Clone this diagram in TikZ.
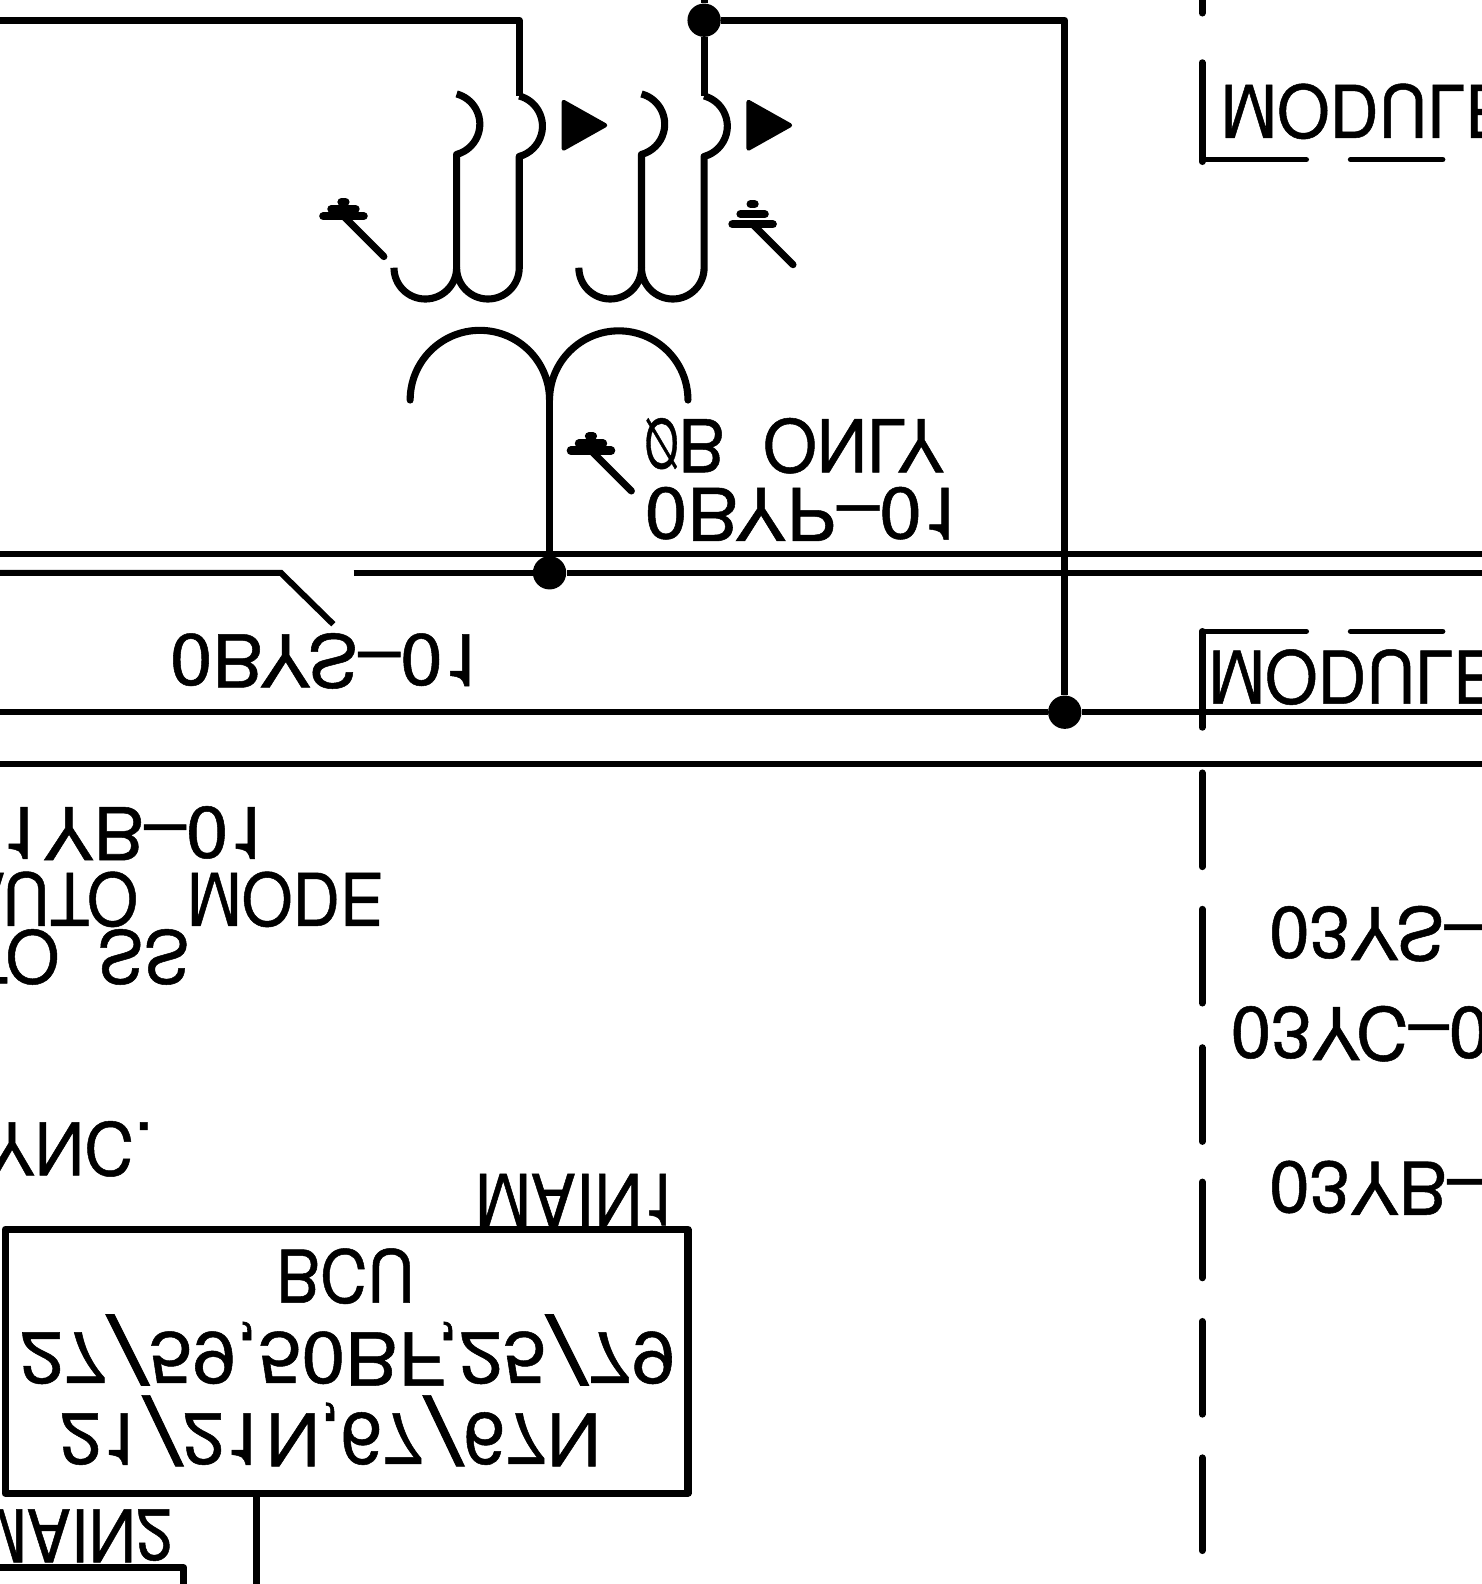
\documentclass[tikz,border=0pt]{standalone}
\usepackage{fontspec}
\setmainfont{TeX Gyre Heros}[FakeBold=0.7]
\usetikzlibrary{positioning}
\newcommand{\cadfont}{\fontsize{41}{41}\selectfont}
\newcommand{\cadslash}{\raisebox{-0.22em}{\scalebox{1.9}[1.3]{/}}}
\tikzset{
  wire/.style={line width=4pt,line join=round},
  bus/.style={line width=3.4pt},
  markbar/.style={line width=4.6pt,line cap=round},
  dashwire/.style={line width=3.8pt,line cap=round},
  dot/.style={circle,fill,inner sep=0pt,minimum size=0.66cm},
  cadtext/.style={font=\cadfont,yscale=-1,inner sep=0pt,text height=1.04cm,text depth=0pt}
}
\begin{document}
\begin{tikzpicture}[x=0.02cm,y=-0.02cm]
  \useasboundingbox (0,0) rectangle (1467,1568);
  \clip (0,0) rectangle (1467,1568);
  % junctions
  \node[dot] (jcttop) at (697,20) {};
  \node[dot] (jctmid) at (544,567) {};
  \node[dot] (jctbus) at (1054,705) {};
  % secondary side
  \draw[wire] (0,20) -- (514,20) -- (514,95);
  \draw[wire] (697,0) -- (jcttop) -- (697,95);
  \draw[wire] (jcttop) -- (1054,20) -- (jctbus);
  \foreach \cx in {0,183}{
    \draw[wire] (514+\cx,95) arc[start angle=-75,end angle=75,radius=31]
      -- (514+\cx,265) arc[start angle=0,end angle=180,radius=31]
      arc[start angle=0,end angle=180,radius=31];
    \draw[wire] (452+\cx,93) arc[start angle=-75,end angle=75,radius=31]
      -- (452+\cx,265);
    \draw[fill,line width=2.4pt,line join=round] (558+\cx,101) -- (599+\cx,124) -- (558+\cx,147) -- cycle;
  }
  % primary side
  \draw[wire,line cap=round] (406,396) arc[start angle=180,end angle=360,radius=69]
    arc[start angle=180,end angle=360,radius=68.5];
  \draw[wire] (544,390) -- (jctmid);
  % polarity marks
  \foreach \mx/\my/\mg in {340/214/7,585/446/7,745/222/10}{
    \draw[wire,line cap=round] (\mx,\my) -- (\mx+40,\my+40);
    \draw[markbar] (\mx-20,\my) -- (\mx+20,\my);
    \draw[markbar] (\mx-12,\my-\mg) -- (\mx+12,\my-\mg);
    \draw[markbar] (\mx-2,\my-2*\mg) -- (\mx+2,\my-2*\mg);
  }
  % busbars
  \draw[bus] (0,548) -- (1467,548);
  \draw[bus] (0,567) -- (278,567) -- (330,618);
  \draw[bus] (350,567) -- (jctmid) -- (1467,567);
  \draw[bus] (0,705) -- (jctbus) -- (1467,705);
  \draw[bus] (0,756) -- (1467,756);
  % module boundary
  \foreach \ya/\yb in {-20/13,62/160,625/720,765/858,900/993,1037/1130,1170/1265,1308/1400,1443/1535}{
    \draw[dashwire] (1190,\ya) -- (1190,\yb);
  }
  \foreach \ym in {158,625}{
    \draw[dashwire,line width=3.2pt] (1190,\ym) -- (1293,\ym);
    \draw[dashwire,line width=3.2pt] (1337,\ym) -- (1428,\ym);
  }
  % relay box
  \draw[wire] (5,1217) rectangle (681,1478);
  \coordinate (bcudrop) at (254,1478);
  \coordinate (bcuend) at (254,1568);
  \draw[wire] (bcudrop) -- (bcuend);
  \draw[wire] (0,1552) -- (182,1552) -- (182,1568);
  % labels
  \node[cadtext,anchor=west,xscale=0.955] (phlabel) at (638,441) {\scalebox{0.62}[0.92]{Ø}B\hspace{0.55em}ONLY};
  \node[cadtext,anchor=west,xscale=1.05] (yplabel) at (638,509) {0BYP–01};
  \node[cadtext,anchor=west,xscale=1.045] (yslabel) at (168,654) {0BYS–01};
  \node[cadtext,anchor=east,xscale=1.04] (yblabel) at (268,825) {01YB–01};
  \node[cadtext,anchor=east,xscale=0.9] (autolabel) at (380,890) {AUTO\hspace{0.75em}MODE};
  \node[cadtext,anchor=east,xscale=0.95] (sslabel) at (188,947) {TO\hspace{0.55em}SS};
  \node[cadtext,anchor=east,xscale=0.95] (synclabel) at (152,1137) {SYNC.};
  \node[cadtext,anchor=west,xscale=0.92] (mainone) at (470,1188) {MAIN1};
  \node[cadtext,anchor=east,xscale=0.9] (maintwo) at (171,1520) {MAIN2};
  \node[cadtext,xscale=0.9] (bculabel) at (342,1263) {BCU};
  \node[cadtext,xscale=1.08] (bculine) at (344,1345) {27\cadslash59,50BF,25\cadslash79};
  \node[cadtext,xscale=1.03] (bcuprot) at (327,1425) {21\cadslash21N,67\cadslash67N};
  \node[cadtext,anchor=west,xscale=0.93] (modtop) at (1208,110) {MODULE};
  \node[cadtext,anchor=west,xscale=0.93] (modbot) at (1196,670) {MODULE};
  \node[cadtext,anchor=west] (ysnext) at (1256,924) {03YS–01};
  \node[cadtext,anchor=west] (ycnext) at (1218,1023) {03YC–01};
  \node[cadtext,anchor=west] (ybnext) at (1256,1176) {03YB–01};
\end{tikzpicture}
\end{document}
